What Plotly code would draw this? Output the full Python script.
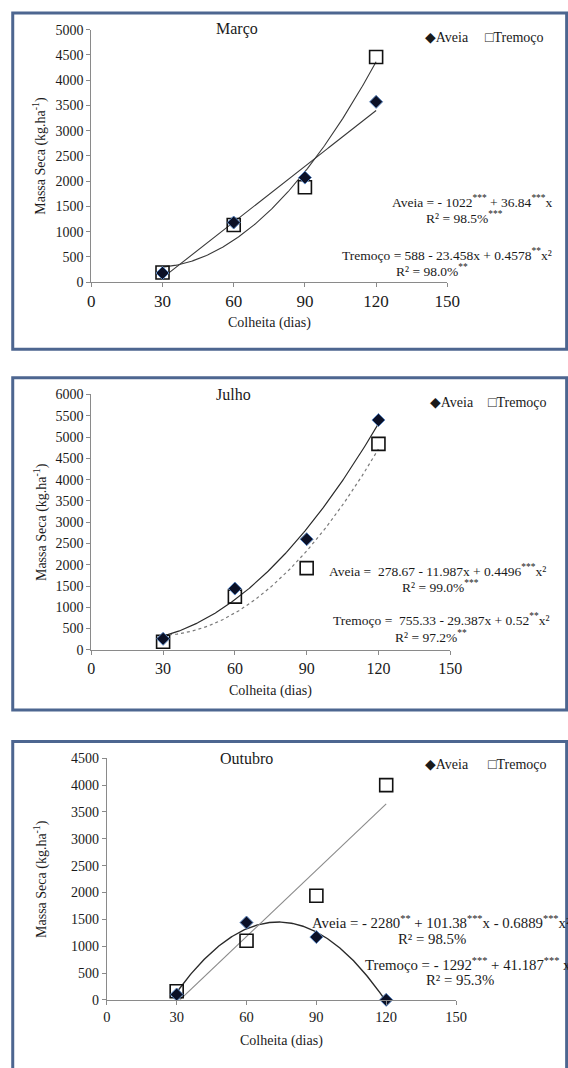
import numpy as np
import plotly.graph_objects as go

W, H = 568, 1068

# ---------------- data ----------------
days = [30, 60, 90, 120]

marco_aveia = [180, 1180, 2070, 3570]
marco_tremoco = [190, 1130, 1880, 4460]
julho_aveia = [260, 1440, 2600, 5400]
julho_tremoco = [190, 1250, 1920, 4840]
outubro_aveia = [100, 1440, 1170, 0]
outubro_tremoco = [160, 1100, 1940, 4000]

# regression coefficients printed on the chart (constant, x, x^2)
marco_aveia_coef = [-1022, 36.84]
marco_tremoco_coef = [588, -23.458, 0.4578]
julho_aveia_coef = [278.67, -11.987, 0.4496]
julho_tremoco_coef = [755.33, -29.387, 0.52]
outubro_aveia_coef = [-2280, 101.38, -0.6889]
outubro_tremoco_coef = [-1292, 41.187]

x_ticks = [0, 30, 60, 90, 120, 150]
y_max = [5000, 6000, 4500]
panel_titles = ["Março", "Julho", "Outubro"]
series_names = ["Aveia", "Tremoço"]

eq_marco = ["Aveia = - 1022<sup>***</sup> + 36.84<sup>***</sup>x",
            "R² = 98.5%<sup>***</sup>",
            "Tremoço = 588 - 23.458x + 0.4578<sup>**</sup>x²",
            "R² = 98.0%<sup>**</sup>"]
eq_julho = ["Aveia =  278.67 - 11.987x + 0.4496<sup>***</sup>x²",
            "R² = 99.0%<sup>***</sup>",
            "Tremoço =  755.33 - 29.387x + 0.52<sup>**</sup>x²",
            "R² = 97.2%<sup>**</sup>"]
eq_outubro = ["Aveia = - 2280<sup>**</sup> + 101.38<sup>***</sup>x - 0.6889<sup>***</sup>x²",
              "R² = 98.5%",
              "Tremoço = - 1292<sup>***</sup> + 41.187<sup>***</sup> x",
              "R² = 95.3%"]

x_title = "Colheita (dias)"
y_title = "Massa Seca (kg.ha<sup>-1</sup>)"

# ---------------- layout helpers ----------------
def fx(px):
    return px / W

def fy(py):
    return 1 - py / H

FONT = "Liberation Serif, Times New Roman, DejaVu Serif, serif"
TXT = "#1a1a1a"
AXC = "#8a8a8a"
BORDER = "#4d6690"

# plot area boxes in pixels: (left, right, top, bottom)
boxes = [(90, 457, 23, 279), (90, 460, 393, 652), (106, 466, 762, 1007)]
xtick_size = [17, 16, 14.5]
eq_size = [13.5, 13.5, 14.8]

panels = [
    (marco_aveia, marco_tremoco, marco_aveia_coef, marco_tremoco_coef),
    (julho_aveia, julho_tremoco, julho_aveia_coef, julho_tremoco_coef),
    (outubro_aveia, outubro_tremoco, outubro_aveia_coef, outubro_tremoco_coef),
]
line_styles = [
    (dict(color="#3a3a3a", width=1.1), dict(color="#3a3a3a", width=1.1)),
    (dict(color="#2a2a2a", width=1.2), dict(color="#7a7a7a", width=1.2, dash="dot")),
    (dict(color="#2a2a2a", width=1.4), dict(color="#8a8a8a", width=1.1)),
]

fig = go.Figure()
xfit = np.linspace(days[0], days[-1], 200)

for i, (av, tr, cav, ctr) in enumerate(panels):
    xa = "x" if i == 0 else f"x{i+1}"
    ya = "y" if i == 0 else f"y{i+1}"
    sa, st = line_styles[i]
    fig.add_trace(go.Scatter(x=xfit, y=np.polynomial.polynomial.polyval(xfit, cav),
                             mode="lines", line=sa, xaxis=xa, yaxis=ya,
                             showlegend=False, hoverinfo="skip"))
    fig.add_trace(go.Scatter(x=xfit, y=np.polynomial.polynomial.polyval(xfit, ctr),
                             mode="lines", line=st, xaxis=xa, yaxis=ya,
                             showlegend=False, hoverinfo="skip"))
    fig.add_trace(go.Scatter(x=days, y=tr, mode="markers", name=series_names[1],
                             marker=dict(symbol="square-open", size=13, color="#111111",
                                         line=dict(width=1.6)),
                             xaxis=xa, yaxis=ya, cliponaxis=False, showlegend=False))
    fig.add_trace(go.Scatter(x=days, y=av, mode="markers", name=series_names[0],
                             marker=dict(symbol="diamond", size=10, color="#0b1026",
                                         line=dict(color="#5a85c0", width=1)),
                             xaxis=xa, yaxis=ya, cliponaxis=False, showlegend=False))

layout = dict(
    width=W, height=H, margin=dict(l=0, r=0, t=0, b=0),
    paper_bgcolor="white", plot_bgcolor="white",
    font=dict(family=FONT, color=TXT, size=14),
    showlegend=False,
)

annotations = []
shapes = []
eqs = [eq_marco, eq_julho, eq_outubro]
# equation positions: (x, y, anchor) per line in pixels
eq_pos = [
    [(483, 197, "center"), (475, 213, "center"), (457, 251, "center"), (441, 267, "center")],
    [(333, 572, "left"), (450, 588, "center"), (337, 621, "left"), (440, 638, "center")],
    [(315, 928, "left"), (441, 945, "center"), (370, 971, "left"), (470, 987, "center")],
]
title_pos = [(240, 22), (237, 393), (250, 762)]
legend_pos = [((432, 31), (494, 31)), ((437, 401), (497, 401)), ((432, 768), (497, 768))]
borders = [(9, 6, 347), (9, 376, 713), (9, 745, 1080)]

for i in range(3):
    l, r, t, b = boxes[i]
    xk = "xaxis" if i == 0 else f"xaxis{i+1}"
    yk = "yaxis" if i == 0 else f"yaxis{i+1}"
    anchor_x = "y" if i == 0 else f"y{i+1}"
    anchor_y = "x" if i == 0 else f"x{i+1}"
    layout[xk] = dict(domain=[fx(l), fx(r)], anchor=anchor_x, range=[0, 150],
                      tickvals=x_ticks, showgrid=False, zeroline=False,
                      showline=True, linecolor=AXC, linewidth=1,
                      ticks="outside", ticklen=4, tickcolor=AXC,
                      tickfont=dict(family=FONT, size=xtick_size[i], color=TXT))
    layout[yk] = dict(domain=[fy(b), fy(t)], anchor=anchor_y, range=[0, y_max[i]],
                      dtick=500, showgrid=False, zeroline=False,
                      showline=True, linecolor=AXC, linewidth=1,
                      ticks="outside", ticklen=4, tickcolor=AXC,
                      tickfont=dict(family=FONT, size=14, color=TXT))
    # panel title
    annotations.append(dict(text=panel_titles[i], x=fx(title_pos[i][0]), y=fy(title_pos[i][1]),
                            xref="paper", yref="paper", showarrow=False,
                            xanchor="center", yanchor="middle",
                            font=dict(family=FONT, size=16, color=TXT)))
    # axis titles
    annotations.append(dict(text=x_title, x=fx((l + r) / 2), y=fy(b + 42),
                            xref="paper", yref="paper", showarrow=False,
                            xanchor="center", yanchor="middle",
                            font=dict(family=FONT, size=14, color=TXT)))
    annotations.append(dict(text=y_title, x=fx(37), y=fy((t + b) / 2), textangle=-90,
                            xref="paper", yref="paper", showarrow=False,
                            xanchor="center", yanchor="middle",
                            font=dict(family=FONT, size=14, color=TXT)))
    # legend
    (ax_, ay_), (tx_, ty_) = legend_pos[i]
    annotations.append(dict(text="◆" + series_names[0], x=fx(ax_), y=fy(ay_),
                            xref="paper", yref="paper", showarrow=False,
                            xanchor="left", yanchor="middle",
                            font=dict(family=FONT, size=14, color=TXT)))
    annotations.append(dict(text="□" + series_names[1], x=fx(tx_), y=fy(ty_),
                            xref="paper", yref="paper", showarrow=False,
                            xanchor="left", yanchor="middle",
                            font=dict(family=FONT, size=14, color=TXT)))
    # equations
    for txt, (ex, ey, anc) in zip(eqs[i], eq_pos[i]):
        annotations.append(dict(text=txt, x=fx(ex), y=fy(ey), xref="paper", yref="paper",
                                showarrow=False, xanchor=anc, yanchor="middle",
                                font=dict(family=FONT, size=eq_size[i], color=TXT)))
    # panel border
    bx, btop, bbot = borders[i]
    shapes.append(dict(type="rect", xref="paper", yref="paper",
                       x0=fx(bx), x1=fx(W + 12), y0=fy(bbot), y1=fy(btop),
                       line=dict(color=BORDER, width=3), layer="below"))

layout["annotations"] = annotations
layout["shapes"] = shapes
fig.update_layout(**layout)
fig.write_html("out.html", config={"displayModeBar": False},
               post_script="document.body.style.margin='0';document.body.style.overflow='hidden';")
